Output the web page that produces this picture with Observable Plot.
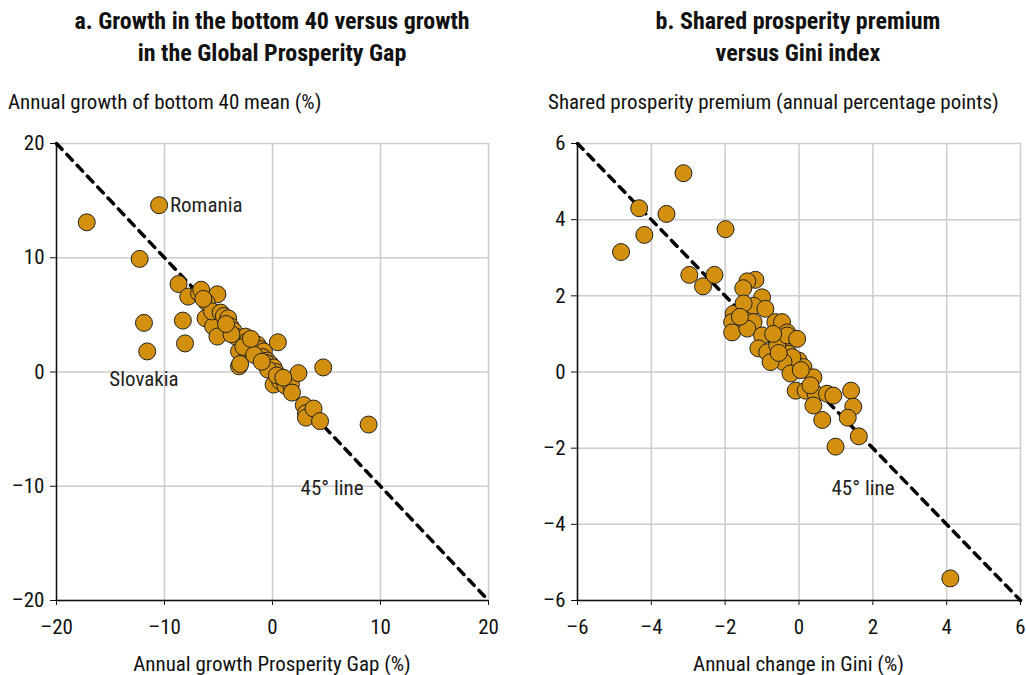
<!DOCTYPE html>
<html>
<head>
<meta charset="utf-8">
<script src="https://cdn.jsdelivr.net/npm/d3@7"></script>
<script src="https://cdn.jsdelivr.net/npm/@observablehq/plot@0.6"></script>
<style>
  html, body { margin: 0; padding: 0; background: #fff; }
  body { width: 1026px; height: 675px; overflow: hidden; position: relative;
         font-family: "Liberation Sans Narrow", "Roboto Condensed", "DejaVu Sans Condensed", "Arial Narrow", sans-serif; color: #111; }
  .panel { position: absolute; top: 0; width: 513px; height: 675px; }
  .title { position: absolute; top: 5px; text-align: center; font-weight: bold; font-size: 24px; line-height: 32px; }
  .ylab { position: absolute; top: 90px; font-size: 21px; white-space: nowrap; }
  .xlab { position: absolute; top: 652px; font-size: 21px; text-align: center; white-space: nowrap; }
  .chart { position: absolute; top: 80px; left: 0; }
  svg { overflow: visible; }
</style>
</head>
<body>
<div class="panel" id="pa" style="left:0">
  <div class="title" style="left:22px;width:500px">a. Growth in the bottom 40 versus growth<br>in the Global Prosperity Gap</div>
  <div class="ylab" style="left:8px">Annual growth of bottom 40 mean (%)</div>
  <div class="xlab" style="left:56px;width:432px">Annual growth Prosperity Gap (%)</div>
  <div class="chart" id="ca"></div>
</div>
<div class="panel" id="pb" style="left:513px">
  <div class="title" style="left:35px;width:500px">b. Shared prosperity premium<br>versus Gini index</div>
  <div class="ylab" style="left:35px">Shared prosperity premium (annual percentage points)</div>
  <div class="xlab" style="left:64px;width:443px">Annual change in Gini (%)</div>
  <div class="chart" id="cb"></div>
</div>
<script>
// ---- Panel a data ----
const gapGrowth = [-17.2,-10.5,-12.3,-11.9,-11.6,-8.3,-8.1,-8.7,-7.8,-6.8,-6.6,-5.1,-6.2,-6.1,-5.5,-5.1,-5.6,-4.8,-4.5,-4.1,-3.9,-3.6,-3.4,-3.1,-3.1,-2.5,-2.3,-2.2,-1.9,-1.4,-1.4,-1.1,-0.8,-0.9,-0.5,-0.2,-0.6,0.1,0.3,0.5,0.1,0.7,1.2,1.7,1.8,2.4,2.9,3.1,3.1,3.8,4.4,4.7,8.9,-3.0,-2.7,-1.7,-0.4,0.4,-3.8,-2.0,-4.3,-1.0,1.0,-6.4];
const b40Growth = [13.1,14.6,9.9,4.3,1.8,4.5,2.5,7.7,6.6,6.9,7.2,6.8,4.7,6.1,4.0,3.1,5.3,5.2,4.9,4.7,4.0,3.6,3.1,1.8,0.5,3.1,2.7,2.3,1.9,2.4,1.7,2.0,1.8,1.3,1.0,0.7,0.8,0.4,0.0,2.6,-1.1,-0.8,-1.2,-1.1,-1.8,-0.1,-2.9,-3.6,-4.0,-3.2,-4.3,0.4,-4.6,0.7,2.2,1.5,0.2,-0.3,3.3,2.9,4.2,0.9,-0.5,6.4];
const ticksA = [-20,-10,0,10,20];
const labelsStartA = [{t:"Romania", x:-9.5, y:14.6}, {t:"45° line", x:2.6, y:-10.2}];
const labelsMiddleA = [{t:"Slovakia", x:-11.9, y:-0.6}];

// ---- Panel b data ----
const giniChange = [-4.82,-4.33,-4.19,-3.59,-3.13,-2.97,-2.6,-2.29,-1.99,-1.18,-1.4,-1.51,-1.0,-1.77,-1.81,-1.81,-1.4,-1.23,-0.91,-0.64,-1.23,-1.4,-1.0,-1.1,-0.86,-0.46,-0.32,-0.42,-0.28,-0.01,-0.59,0.12,-0.32,-0.05,-0.18,-0.42,0.39,-0.09,0.18,0.45,0.76,0.93,0.39,0.63,1.41,1.47,1.32,1.62,0.99,0.31,-0.77,4.1,-0.23,-1.5,-0.7,0.05,-1.6,-0.55];
const spPremium = [3.15,4.3,3.6,4.15,5.22,2.55,2.25,2.55,3.75,2.42,2.38,2.2,1.96,1.53,1.31,1.04,1.61,1.74,1.66,1.31,1.31,1.14,0.96,0.62,0.52,1.31,1.04,0.75,0.48,0.3,0.7,0.13,0.96,0.87,0.39,0.26,-0.14,-0.49,-0.49,-0.57,-0.57,-0.62,-0.88,-1.26,-0.49,-0.91,-1.2,-1.69,-1.96,-0.35,0.26,-5.42,-0.04,1.8,1.0,0.05,1.45,0.5];
const ticksB = [-6,-4,-2,0,2,4,6];
const labelsStartB = [{t:"45° line", x:0.88, y:-3.06}];
const labelsMiddleB = [];

const FONT = '"Liberation Sans Narrow", "Roboto Condensed", "DejaVu Sans Condensed", "Arial Narrow", sans-serif';
const DOT_FILL = "#d3900f";

function panel(xs, ys, ticks, labStart, labMid, ml, mr) {
  const lo = ticks[0], hi = ticks[ticks.length - 1];
  const pts = xs.map((x, i) => ({x, y: ys[i]}));
  const diag = [{x: lo, y: hi}, {x: hi, y: lo}];
  const fmt = d => d < 0 ? "\u2013" + Math.abs(d) : String(d);
  return Plot.plot({
    width: 513, height: 595,
    marginLeft: ml, marginRight: mr, marginTop: 63, marginBottom: 75,
    style: {fontFamily: FONT, fontSize: "21px", color: "#111", overflow: "visible", background: "transparent"},
    x: {domain: [lo, hi], ticks, tickFormat: fmt, label: null, tickSize: 5, tickPadding: 14},
    y: {domain: [lo, hi], ticks, tickFormat: fmt, label: null, tickSize: 6, tickPadding: 6},
    marks: [
      Plot.ruleX(ticks, {stroke: "#cccccc", strokeWidth: 1.5}),
      Plot.ruleY(ticks, {stroke: "#cccccc", strokeWidth: 1.5}),
      Plot.ruleX([lo], {stroke: "#111", strokeWidth: 1.5}),
      Plot.ruleY([lo], {stroke: "#111", strokeWidth: 1.5}),
      Plot.line(diag, {x: "x", y: "y", stroke: "#000", strokeWidth: 3.5, strokeDasharray: "8,7"}),
      Plot.dot(pts, {x: "x", y: "y", r: 8.5, fill: DOT_FILL, stroke: "#222", strokeWidth: 1}),
      Plot.text(labStart, {x: "x", y: "y", text: "t", textAnchor: "start", fontSize: 21, fill: "#222"}),
      Plot.text(labMid, {x: "x", y: "y", text: "t", textAnchor: "middle", fontSize: 21, fill: "#222"})
    ]
  });
}

document.getElementById("ca").append(panel(gapGrowth, b40Growth, ticksA, labelsStartA, labelsMiddleA, 56, 25));
document.getElementById("cb").append(panel(giniChange, spPremium, ticksB, labelsStartB, labelsMiddleB, 64, 6));
</script>
</body>
</html>
